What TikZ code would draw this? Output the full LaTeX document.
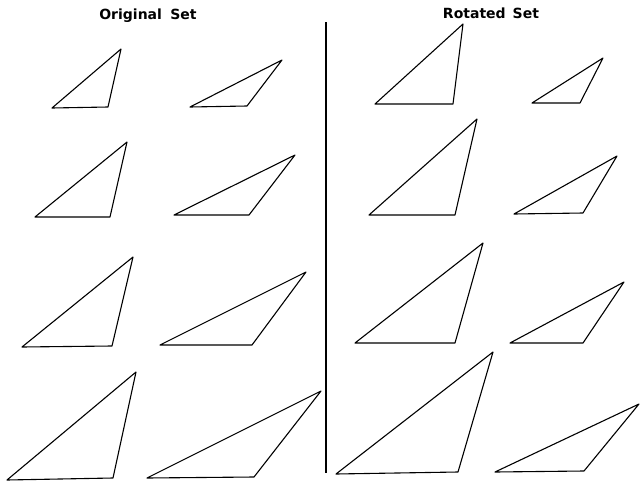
\documentclass[tikz,border=0pt]{standalone}
\usepackage{fontspec}
\setmainfont{Liberation Sans}
\newfontfamily\titlefont{DejaVu Sans}
\begin{document}
\begin{tikzpicture}[x=1pt,y=-1pt,
  tri/.style={draw=black,line width=1.1pt,line join=round},
  title/.style={font=\titlefont\fontsize{14}{16}\selectfont\bfseries,inner sep=0pt}]
\useasboundingbox (0,0) rectangle (640,482);
\node[title] (t1) at (148,16) {Original\hspace{0.6em}Set};
\node[title] (t2) at (491,13) {Rotated\hspace{0.5em}Set};
\draw[line width=1.3pt] (326,22) -- (326,473);
% Original set
\draw[tri] (52,108) -- (108,107) -- (121,49) -- cycle;
\draw[tri] (190,107) -- (247,106) -- (282,60) -- cycle;
\draw[tri] (35,217) -- (110,217) -- (127,142) -- cycle;
\draw[tri] (174,215) -- (249,215) -- (295,155) -- cycle;
\draw[tri] (22,347) -- (112,346) -- (133,257) -- cycle;
\draw[tri] (160,345) -- (252,345) -- (306,272) -- cycle;
\draw[tri] (7,480) -- (113,478) -- (136,372) -- cycle;
\draw[tri] (147,478) -- (254,477) -- (321,391) -- cycle;
% Rotated set
\draw[tri] (375,104) -- (453,104) -- (463,24) -- cycle;
\draw[tri] (532,103) -- (580,103) -- (603,58) -- cycle;
\draw[tri] (369,215) -- (455,215) -- (477,119) -- cycle;
\draw[tri] (514,214) -- (583,213) -- (617,156) -- cycle;
\draw[tri] (355,343) -- (455,343) -- (483,243) -- cycle;
\draw[tri] (510,343) -- (583,343) -- (624,282) -- cycle;
\draw[tri] (336,474) -- (458,472) -- (493,352) -- cycle;
\draw[tri] (495,472) -- (584,471) -- (639,404) -- cycle;
\end{tikzpicture}
\end{document}
